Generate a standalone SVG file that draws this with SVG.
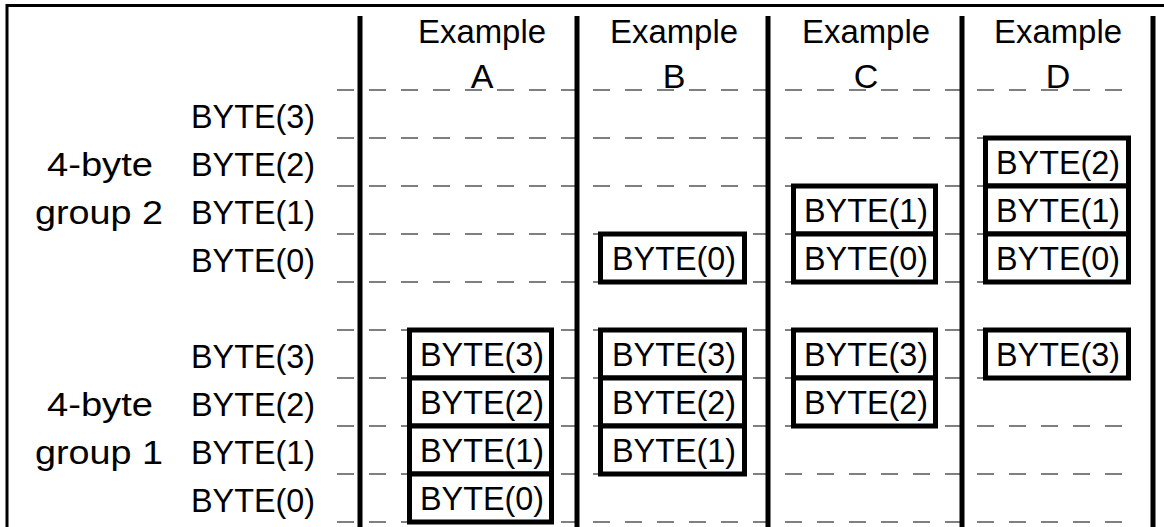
<svg xmlns="http://www.w3.org/2000/svg" width="1164" height="527" viewBox="0 0 1164 527">
<style>
text{font-family:"Liberation Sans",Arial,Helvetica,sans-serif;font-size:34px;fill:#000}
.c{text-anchor:middle}
.dash{stroke:#000;stroke-width:1.2;stroke-dasharray:17 15;fill:none}
.div{stroke:#000;stroke-width:5;fill:none}
.box rect{fill:#fff;stroke:#000;stroke-width:5}
</style>
<rect x="0" y="0" width="1164" height="527" fill="#fff"/>
<g id="frame">
<path d="M7 527V5.5H1164" stroke="#000" stroke-width="3" fill="none"/>
</g>
<g id="connectors">
<line class="dash" x1="337" y1="90" x2="1128" y2="90"/>
<line class="dash" x1="337" y1="138" x2="1128" y2="138"/>
<line class="dash" x1="337" y1="186" x2="1128" y2="186"/>
<line class="dash" x1="337" y1="234" x2="1128" y2="234"/>
<line class="dash" x1="337" y1="282" x2="1128" y2="282"/>
<line class="dash" x1="337" y1="330" x2="1128" y2="330"/>
<line class="dash" x1="337" y1="378" x2="1128" y2="378"/>
<line class="dash" x1="337" y1="426" x2="1128" y2="426"/>
<line class="dash" x1="337" y1="474" x2="1128" y2="474"/>
<line class="dash" x1="337" y1="522" x2="1128" y2="522"/>
<line class="div" x1="360" y1="16" x2="360" y2="527"/>
<line class="div" x1="577" y1="16" x2="577" y2="527"/>
<line class="div" x1="768" y1="16" x2="768" y2="527"/>
<line class="div" x1="962" y1="16" x2="962" y2="527"/>
<line class="div" x1="1153" y1="16" x2="1153" y2="527"/>
</g>
<g id="headers">
<text class="c" x="482" y="43" textLength="128" lengthAdjust="spacingAndGlyphs">Example</text>
<text class="c" x="482" y="88">A</text>
<text class="c" x="674" y="43" textLength="128" lengthAdjust="spacingAndGlyphs">Example</text>
<text class="c" x="674" y="88">B</text>
<text class="c" x="866" y="43" textLength="128" lengthAdjust="spacingAndGlyphs">Example</text>
<text class="c" x="866" y="88">C</text>
<text class="c" x="1058" y="43" textLength="128" lengthAdjust="spacingAndGlyphs">Example</text>
<text class="c" x="1058" y="88">D</text>
</g>
<g id="group2-labels">
<text x="47" y="176" textLength="106" lengthAdjust="spacingAndGlyphs">4-byte</text>
<text x="35" y="224" textLength="128" lengthAdjust="spacingAndGlyphs">group 2</text>
<text x="191" y="128" textLength="124" lengthAdjust="spacingAndGlyphs">BYTE(3)</text>
<text x="191" y="176" textLength="124" lengthAdjust="spacingAndGlyphs">BYTE(2)</text>
<text x="191" y="224" textLength="124" lengthAdjust="spacingAndGlyphs">BYTE(1)</text>
<text x="191" y="272" textLength="124" lengthAdjust="spacingAndGlyphs">BYTE(0)</text>
</g>
<g id="group1-labels">
<text x="47" y="416" textLength="106" lengthAdjust="spacingAndGlyphs">4-byte</text>
<text x="35" y="464" textLength="128" lengthAdjust="spacingAndGlyphs">group 1</text>
<text x="191" y="368" textLength="124" lengthAdjust="spacingAndGlyphs">BYTE(3)</text>
<text x="191" y="416" textLength="124" lengthAdjust="spacingAndGlyphs">BYTE(2)</text>
<text x="191" y="464" textLength="124" lengthAdjust="spacingAndGlyphs">BYTE(1)</text>
<text x="191" y="512" textLength="124" lengthAdjust="spacingAndGlyphs">BYTE(0)</text>
</g>
<g id="exA" class="box">
<rect x="409.5" y="330" width="142" height="48"/><text class="c" x="482" y="366" textLength="124" lengthAdjust="spacingAndGlyphs">BYTE(3)</text>
<rect x="409.5" y="378" width="142" height="48"/><text class="c" x="482" y="414" textLength="124" lengthAdjust="spacingAndGlyphs">BYTE(2)</text>
<rect x="409.5" y="426" width="142" height="48"/><text class="c" x="482" y="462" textLength="124" lengthAdjust="spacingAndGlyphs">BYTE(1)</text>
<rect x="409.5" y="474" width="142" height="48"/><text class="c" x="482" y="510" textLength="124" lengthAdjust="spacingAndGlyphs">BYTE(0)</text>
</g>
<g id="exB" class="box">
<rect x="600.5" y="234" width="144" height="48"/><text class="c" x="674" y="270" textLength="124" lengthAdjust="spacingAndGlyphs">BYTE(0)</text>
<rect x="600.5" y="330" width="144" height="48"/><text class="c" x="674" y="366" textLength="124" lengthAdjust="spacingAndGlyphs">BYTE(3)</text>
<rect x="600.5" y="378" width="144" height="48"/><text class="c" x="674" y="414" textLength="124" lengthAdjust="spacingAndGlyphs">BYTE(2)</text>
<rect x="600.5" y="426" width="144" height="48"/><text class="c" x="674" y="462" textLength="124" lengthAdjust="spacingAndGlyphs">BYTE(1)</text>
</g>
<g id="exC" class="box">
<rect x="793.5" y="186" width="142" height="48"/><text class="c" x="866" y="222" textLength="124" lengthAdjust="spacingAndGlyphs">BYTE(1)</text>
<rect x="793.5" y="234" width="142" height="48"/><text class="c" x="866" y="270" textLength="124" lengthAdjust="spacingAndGlyphs">BYTE(0)</text>
<rect x="793.5" y="330" width="142" height="48"/><text class="c" x="866" y="366" textLength="124" lengthAdjust="spacingAndGlyphs">BYTE(3)</text>
<rect x="793.5" y="378" width="142" height="48"/><text class="c" x="866" y="414" textLength="124" lengthAdjust="spacingAndGlyphs">BYTE(2)</text>
</g>
<g id="exD" class="box">
<rect x="985.5" y="138" width="143" height="48"/><text class="c" x="1058" y="174" textLength="124" lengthAdjust="spacingAndGlyphs">BYTE(2)</text>
<rect x="985.5" y="186" width="143" height="48"/><text class="c" x="1058" y="222" textLength="124" lengthAdjust="spacingAndGlyphs">BYTE(1)</text>
<rect x="985.5" y="234" width="143" height="48"/><text class="c" x="1058" y="270" textLength="124" lengthAdjust="spacingAndGlyphs">BYTE(0)</text>
<rect x="985.5" y="330" width="143" height="48"/><text class="c" x="1058" y="366" textLength="124" lengthAdjust="spacingAndGlyphs">BYTE(3)</text>
</g>
</svg>
